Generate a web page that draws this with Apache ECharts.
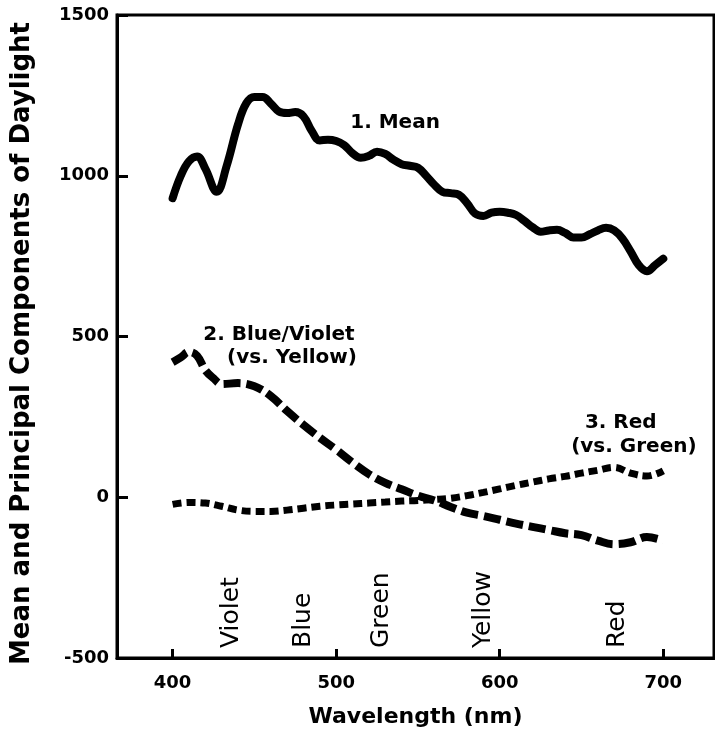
<!DOCTYPE html>
<html>
<head>
<meta charset="utf-8">
<script src="https://cdn.jsdelivr.net/npm/echarts@6/dist/echarts.min.js"></script>
<style>
  html, body { margin: 0; padding: 0; background: #fff; }
  #chart { width: 715px; height: 737px; }
</style>
</head>
<body>
<div id="chart"></div>
<script>
// wavelengths (nm) and values
const meanWl = [400, 405, 410, 415, 420, 427, 433, 440, 445, 450, 455, 460, 465, 470, 475, 480, 485, 490, 495,
  500, 505, 510, 515, 520, 525, 530, 535, 540, 545, 550, 555, 560, 565, 570, 575, 580, 585, 590, 595,
  600, 605, 610, 615, 620, 625, 630, 635, 640, 645, 650, 655, 660, 665, 670, 675, 680, 685, 690, 695, 700];
const meanVal = [930, 1000, 1045, 1060, 1022, 950, 1030, 1160, 1225, 1245, 1245, 1225, 1200, 1195, 1198, 1185, 1140, 1110, 1112,
  1108, 1095, 1070, 1056, 1062, 1075, 1068, 1050, 1036, 1031, 1025, 1000, 972, 950, 946, 941, 915, 882, 875, 885,
  888, 885, 878, 860, 840, 826, 830, 832, 822, 808, 808, 818, 830, 838, 830, 805, 765, 722, 703, 722, 742];

const blueWl = [400, 405, 410, 415, 420, 425, 430, 440, 450, 460, 470, 480, 490, 500, 510, 520, 530, 540, 550, 560,
  570, 580, 590, 600, 610, 620, 630, 640, 650, 660, 670, 680, 690, 700];
const blueVal = [420, 435, 452, 440, 395, 370, 352, 355, 345, 315, 268, 225, 185, 148, 108, 72, 45, 25, 5, -10,
  -30, -48, -58, -70, -82, -92, -102, -112, -118, -135, -146, -140, -124, -135];

const redWl = [400, 410, 420, 430, 440, 450, 460, 470, 480, 490, 500, 510, 520, 530, 540, 550, 560, 570, 580, 590,
  600, 610, 620, 630, 640, 650, 660, 670, 680, 690, 700];
const redVal = [-22, -16, -18, -28, -40, -44, -44, -40, -34, -28, -24, -21, -18, -15, -12, -10, -7, -3, 5, 15,
  26, 37, 47, 57, 65, 75, 84, 93, 75, 66, 82];

const xTicks = [400, 500, 600, 700];
const yTicks = [-500, 0, 500, 1000, 1500];

// curve captions: text, wavelength, value
const captions = [
  ['1. Mean', 536, 1165],
  ['2. Blue/Violet', 465, 506],
  ['(vs. Yellow)', 473, 435],
  ['3. Red', 674, 233],
  ['(vs. Green)', 682, 158]
];
// colour names written upright along the wavelength axis
const bandNames = ['Violet', 'Blue', 'Green', 'Yellow', 'Red'];
const bandWl = [436, 480, 528, 590, 672];

const pairs = (xs, ys) => xs.map((x, i) => [x, ys[i]]);
const FONT = 'DejaVu Sans';

const chart = echarts.init(document.getElementById('chart'));

const option = {
  animation: false,
  backgroundColor: '#fff',
  grid: {
    left: 117, top: 15, right: 1, bottom: 79,
    outerBoundsMode: 'none',
    show: true, borderColor: '#000', borderWidth: 3
  },
  xAxis: {
    type: 'value',
    min: 366, max: 731,
    name: 'Wavelength (nm)',
    nameLocation: 'middle',
    nameGap: 48,
    nameTextStyle: { fontFamily: FONT, fontSize: 22, fontWeight: 'bold', color: '#000' },
    axisLine: { onZero: false, lineStyle: { color: '#000', width: 3 } },
    axisTick: { inside: true, length: 9, customValues: xTicks, lineStyle: { color: '#000', width: 3 } },
    axisLabel: { customValues: xTicks, margin: 16, fontFamily: FONT, fontSize: 18, fontWeight: 'bold', color: '#000' },
    splitLine: { show: false }
  },
  yAxis: {
    type: 'value',
    min: -500, max: 1500, interval: 500,
    name: 'Mean and Principal Components of Daylight',
    nameLocation: 'middle',
    nameRotate: 90,
    nameGap: 82,
    nameTextStyle: { fontFamily: FONT, fontSize: 26, fontWeight: 'bold', color: '#000', padding: [0, 14, 0, 0] },
    axisLine: { show: true, onZero: false, lineStyle: { color: '#000', width: 3 } },
    axisTick: { inside: true, length: 11, lineStyle: { color: '#000', width: 3 } },
    axisLabel: { margin: 8, fontFamily: FONT, fontSize: 18, fontWeight: 'bold', color: '#000',
      formatter: v => yTicks.includes(v) ? String(v) : '' },
    splitLine: { show: false }
  },
  series: [
    {
      name: 'Mean', type: 'line', data: pairs(meanWl, meanVal),
      showSymbol: false, smooth: 0.4,
      lineStyle: { color: '#000', width: 8, cap: 'round', join: 'round' }
    },
    {
      name: 'Blue/Violet', type: 'line', data: pairs(blueWl, blueVal),
      showSymbol: false, smooth: 0.4,
      lineStyle: { color: '#000', width: 8, type: [17, 6] }
    },
    {
      name: 'Red', type: 'line', data: pairs(redWl, redVal),
      showSymbol: false, smooth: 0.4,
      lineStyle: { color: '#000', width: 7, type: [9, 5] }
    }
  ]
};

chart.setOption(option);

// place the captions and band names from data coordinates
const graphics = [];
captions.forEach(([text, wl, val]) => {
  const p = chart.convertToPixel({ gridIndex: 0 }, [wl, val]);
  graphics.push({
    type: 'text', x: p[0], y: p[1],
    style: { text, fontFamily: FONT, fontSize: 20, fontWeight: 'bold', fill: '#000', align: 'center', verticalAlign: 'middle' }
  });
});
bandNames.forEach((name, i) => {
  const p = chart.convertToPixel({ gridIndex: 0 }, [bandWl[i], -500]);
  graphics.push({
    type: 'text', x: p[0], y: p[1] - 10, rotation: Math.PI / 2,
    style: { text: name, fontFamily: FONT, fontSize: 25, fill: '#000', align: 'left', verticalAlign: 'middle' }
  });
});
chart.setOption({ graphic: graphics });
</script>
</body>
</html>
